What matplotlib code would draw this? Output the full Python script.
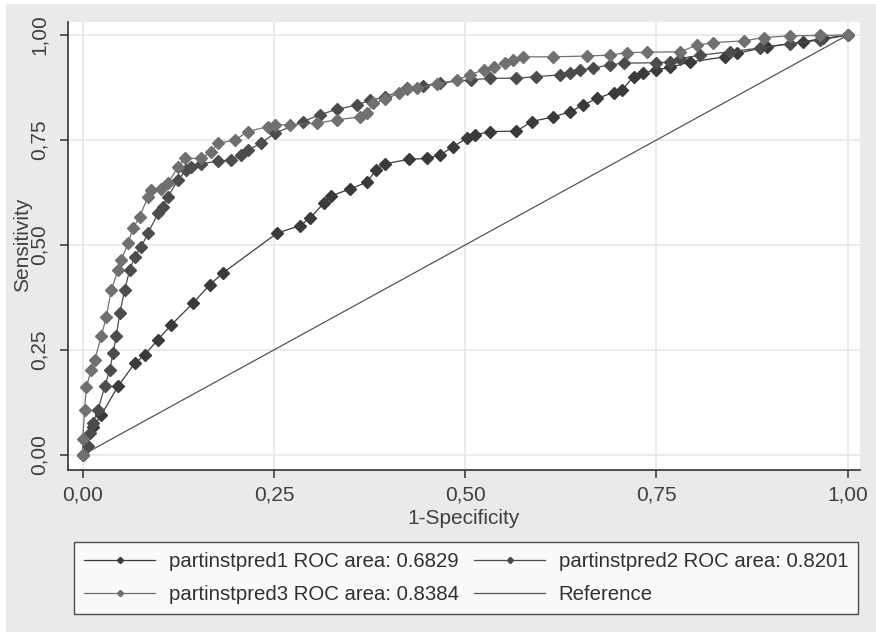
import matplotlib
matplotlib.use("Agg")
import matplotlib.pyplot as plt
from matplotlib.patches import Rectangle

# ---- data ----
pred1_x = [0.0, 0.0135, 0.0243, 0.046, 0.068, 0.081, 0.098, 0.116, 0.144, 0.166, 0.183,
           0.254, 0.284, 0.297, 0.315, 0.325, 0.349, 0.371, 0.384, 0.395, 0.426, 0.450,
           0.467, 0.484, 0.502, 0.513, 0.532, 0.567, 0.587, 0.615, 0.637, 0.654, 0.672,
           0.694, 0.705, 0.720, 0.733, 0.750, 0.768, 0.794, 0.840, 0.855, 0.894, 0.942,
           0.968, 1.0]
pred1_y = [0.0, 0.067, 0.095, 0.163, 0.218, 0.238, 0.274, 0.310, 0.361, 0.405, 0.433,
           0.528, 0.546, 0.564, 0.599, 0.617, 0.633, 0.649, 0.679, 0.693, 0.704, 0.706,
           0.714, 0.734, 0.754, 0.762, 0.770, 0.771, 0.794, 0.805, 0.817, 0.833, 0.849,
           0.863, 0.869, 0.901, 0.910, 0.917, 0.923, 0.936, 0.948, 0.956, 0.972, 0.984,
           0.992, 1.0]

pred2_x = [0.0, 0.0069, 0.0092, 0.0135, 0.020, 0.0288, 0.0353, 0.0396, 0.0439, 0.0484,
           0.0549, 0.0614, 0.068, 0.0766, 0.0854, 0.0984, 0.105, 0.1115, 0.1246, 0.1354,
           0.142, 0.155, 0.177, 0.194, 0.207, 0.216, 0.233, 0.251, 0.288, 0.310, 0.332,
           0.358, 0.376, 0.395, 0.424, 0.445, 0.467, 0.507, 0.532, 0.567, 0.593, 0.624,
           0.637, 0.650, 0.667, 0.689, 0.707, 0.750, 0.768, 0.781, 0.807, 0.846, 0.885,
           0.925, 0.964, 1.0]
pred2_y = [0.0, 0.020, 0.052, 0.075, 0.107, 0.163, 0.202, 0.242, 0.282, 0.337,
           0.393, 0.440, 0.472, 0.496, 0.528, 0.575, 0.591, 0.615, 0.655, 0.679,
           0.686, 0.693, 0.700, 0.702, 0.714, 0.726, 0.742, 0.766, 0.794, 0.810, 0.823,
           0.833, 0.845, 0.852, 0.874, 0.879, 0.886, 0.893, 0.897, 0.897, 0.901, 0.905,
           0.909, 0.917, 0.921, 0.929, 0.933, 0.934, 0.936, 0.944, 0.952, 0.960, 0.969,
           0.979, 0.988, 1.0]

pred3_x = [0.0, 0.0, 0.0026, 0.0047, 0.0112, 0.0157, 0.0243, 0.0308, 0.0374, 0.0461,
           0.0505, 0.0592, 0.0658, 0.0745, 0.0854, 0.0897, 0.1027, 0.1115, 0.1246, 0.1333,
           0.155, 0.168, 0.177, 0.199, 0.216, 0.242, 0.251, 0.271, 0.306, 0.332, 0.362,
           0.371, 0.380, 0.395, 0.413, 0.424, 0.437, 0.463, 0.489, 0.506, 0.524, 0.537,
           0.552, 0.563, 0.576, 0.615, 0.659, 0.689, 0.711, 0.737, 0.781, 0.803, 0.824,
           0.864, 0.890, 0.925, 0.964, 1.0]
pred3_y = [0.0, 0.039, 0.107, 0.162, 0.202, 0.226, 0.282, 0.329, 0.393, 0.440,
           0.464, 0.504, 0.540, 0.567, 0.615, 0.631, 0.633, 0.647, 0.686, 0.706,
           0.706, 0.722, 0.742, 0.750, 0.770, 0.782, 0.786, 0.786, 0.790, 0.798, 0.805,
           0.814, 0.837, 0.847, 0.861, 0.871, 0.874, 0.883, 0.893, 0.905, 0.917, 0.925,
           0.933, 0.940, 0.948, 0.948, 0.950, 0.952, 0.958, 0.959, 0.960, 0.976, 0.982,
           0.986, 0.994, 0.998, 0.999, 1.0]

ref_x = [0.0, 1.0]
ref_y = [0.0, 1.0]

labels = ["partinstpred1 ROC area: 0.6829",
          "partinstpred2 ROC area: 0.8201",
          "partinstpred3 ROC area: 0.8384",
          "Reference"]
ticks = [0.0, 0.25, 0.5, 0.75, 1.0]
tick_labels = ["0,00", "0,25", "0,50", "0,75", "1,00"]

# ---- figure ----
W, H = 876, 632
plt.rcParams['font.family'] = ['Liberation Sans', 'DejaVu Sans']
fig = plt.figure(figsize=(W / 100, H / 100), dpi=100, facecolor="white")
fig.patches.append(Rectangle((6 / W, 0), (W - 6) / W, (H - 4) / H,
                             transform=fig.transFigure, facecolor="#e9eaec",
                             edgecolor="none", zorder=-10))

def fx(px):
    return px / W

def fy(py):
    return 1 - py / H

ax = fig.add_axes([fx(68), fy(470), fx(860) - fx(68), fy(22) - fy(470)])
ax.set_facecolor("white")
ax.set_xlim(-0.0192, 1.016)
ax.set_ylim(-0.036, 1.031)

for s in ["top", "right"]:
    ax.spines[s].set_visible(False)
for s in ["left", "bottom"]:
    ax.spines[s].set_color("#333333")
    ax.spines[s].set_linewidth(1.2)

ax.set_xticks(ticks)
ax.set_xticklabels(tick_labels)
ax.set_yticks(ticks)
ax.set_yticklabels(tick_labels, rotation=90, va="center")
ax.tick_params(axis="both", direction="out", length=6, width=1.1, color="#333333",
               labelsize=15, labelcolor="#404040")
ax.tick_params(axis="y", pad=8)
ax.tick_params(axis="x", pad=5)
ax.grid(True, color="#e6e6e6", linewidth=1.1)
ax.set_axisbelow(True)

c1, c2, c3 = "#3a3a3a", "#4c4c4c", "#707070"
h1, = ax.plot(pred1_x, pred1_y, color=c1, lw=0.9, marker="D", ms=5.8,
              mec=c1, mfc=c1, label=labels[0], zorder=3)
h2, = ax.plot(pred2_x, pred2_y, color=c2, lw=0.9, marker="D", ms=5.8,
              mec=c2, mfc=c2, label=labels[1], zorder=4)
h3, = ax.plot(pred3_x, pred3_y, color=c3, lw=0.9, marker="D", ms=5.8,
              mec=c3, mfc=c3, label=labels[2], zorder=5)
h4, = ax.plot(ref_x, ref_y, color="#555555", lw=0.9, label=labels[3], zorder=2)

fig.text(fx(464), fy(519), "1-Specificity", ha="center", va="center",
         fontsize=15, color="#404040")
fig.text(fx(23), fy(245), "Sensitivity", ha="center", va="center",
         rotation=90, fontsize=15, color="#404040")

leg = fig.legend([h1, h3, h2, h4], [labels[0], labels[2], labels[1], labels[3]],
                 ncol=2, loc="center", bbox_to_anchor=(fx(466), fy(578)),
                 fontsize=14.7, frameon=True, fancybox=False, edgecolor="#222222",
                 handlelength=3.5, handletextpad=0.65, columnspacing=0.75,
                 markerscale=0.55, borderpad=0.5, labelspacing=0.7)
leg.get_frame().set_linewidth(1.0)
leg.get_frame().set_facecolor("white")
for t in leg.get_texts():
    t.set_color("#303030")

fig.savefig("out.png", dpi=100, facecolor=fig.get_facecolor())
